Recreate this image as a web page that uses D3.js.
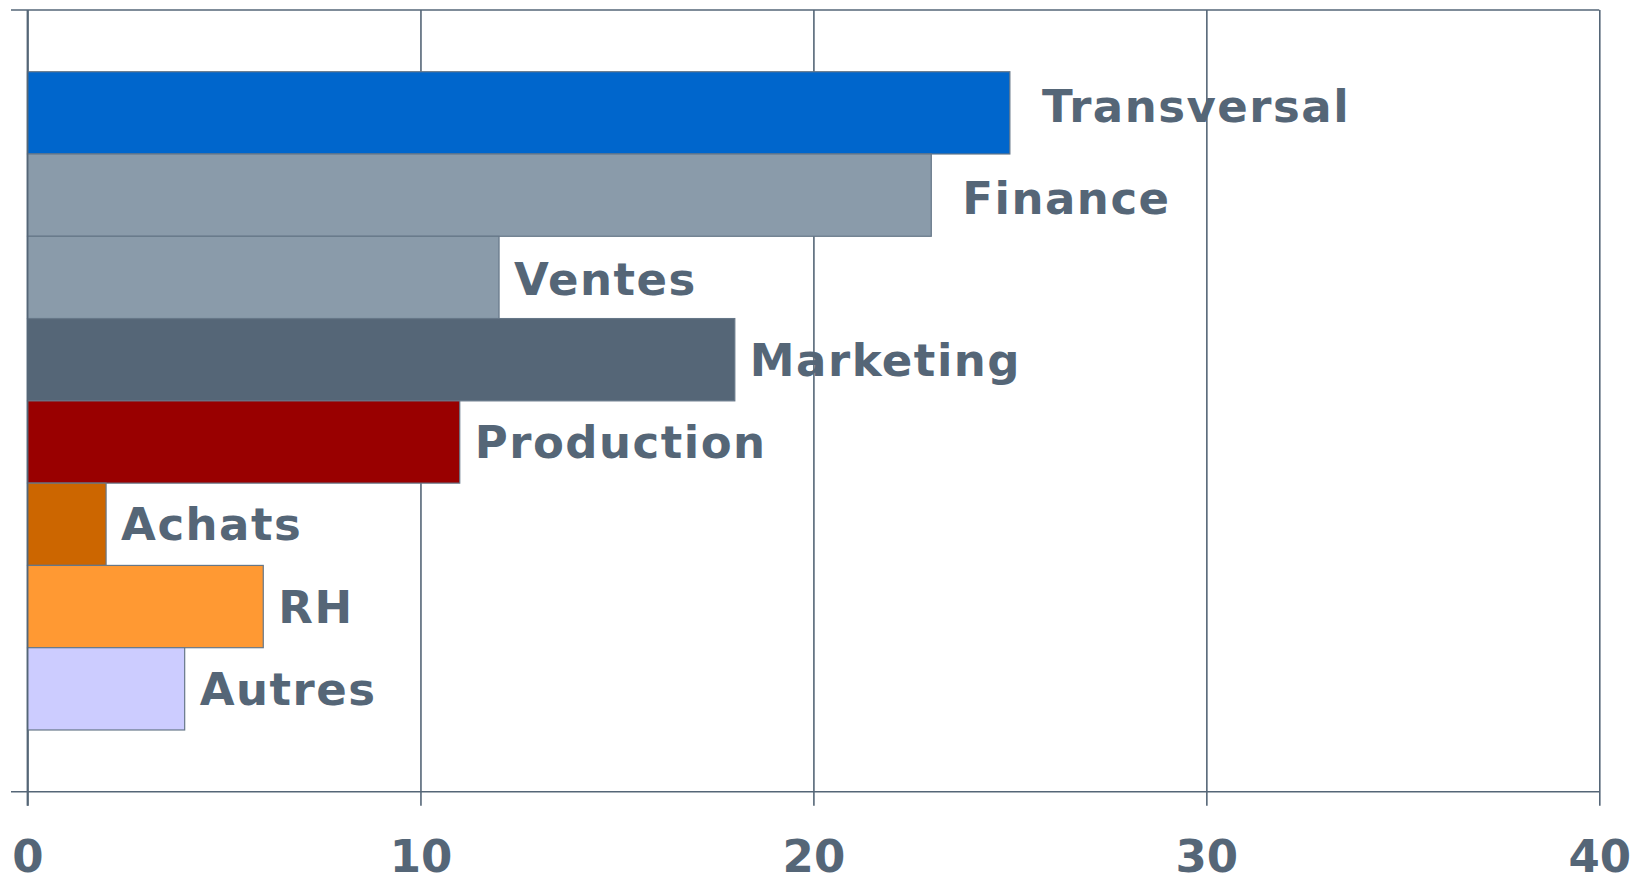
<!DOCTYPE html>
<html>
<head>
<meta charset="utf-8">
<script src="https://cdn.jsdelivr.net/npm/d3@7"></script>
<style>
  html, body { margin: 0; padding: 0; background: #ffffff; }
  svg { display: block; }
  text { font-family: "DejaVu Sans", Verdana, sans-serif; font-weight: bold; fill: #556677; }
</style>
</head>
<body>
<svg id="chart" width="1639" height="877"></svg>
<script>
// ---- data ----
const categories = ["Transversal", "Finance", "Ventes", "Marketing", "Production", "Achats", "RH", "Autres"];
const values = [25, 23, 12, 18, 11, 2, 6, 4];
const barColors = ["#0066CC", "#8A9BAA", "#8A9BAA", "#556677", "#990000", "#CC6600", "#FF9933", "#CCCCFF"];
const xTicks = [0, 10, 20, 30, 40];
// label styling offsets (px) relative to bar end / band centre
const labelDx = [32, 31, 15, 15, 15, 15, 15, 15];
const labelDy = [-7, 3, 2, 0, 0, 0, 0, 0];

// ---- layout ----
const svg = d3.select("#chart");
const mLeft = 27.5, mRight = 1599.3, mTop = 10, mBottom = 791.7;
const ink = "#556677";

const x = d3.scaleLinear().domain([0, 40]).range([mLeft, mRight]);
const y = d3.scaleBand().domain(categories).range([mTop, mBottom]).paddingInner(0).paddingOuter(0.75);

// grid / ticks via axis
const axis = d3.axisBottom(x).tickValues(xTicks).tickSize(mBottom - mTop + 14).tickFormat(d3.format("d"));
const gAxis = svg.append("g").attr("transform", `translate(0,${mTop})`).call(axis);
gAxis.select(".domain").remove();
gAxis.selectAll(".tick line").attr("stroke", ink).attr("stroke-width", 1.6);
gAxis.selectAll(".tick text")
  .attr("y", 872 - mTop).attr("dy", 0)
  .style("font-size", "45px").attr("fill", ink);

// top & bottom horizontal lines
svg.append("g").selectAll("line").data([mTop, mBottom]).join("line")
  .attr("x1", 11).attr("x2", mRight)
  .attr("y1", d => d).attr("y2", d => d)
  .attr("stroke", ink).attr("stroke-width", 1.6);

// bars
svg.append("g").selectAll("rect").data(categories).join("rect")
  .attr("x", x(0))
  .attr("y", d => y(d))
  .attr("width", (d, i) => x(values[i]) - x(0))
  .attr("height", y.bandwidth())
  .attr("fill", (d, i) => barColors[i])
  .attr("stroke", "#667788")
  .attr("stroke-width", 1.2);

// left axis line on top of bars
svg.append("line")
  .attr("x1", mLeft).attr("x2", mLeft).attr("y1", mTop).attr("y2", mBottom + 14)
  .attr("stroke", ink).attr("stroke-width", 1.8);

// labels
svg.append("g").selectAll("text").data(categories).join("text")
  .attr("x", (d, i) => x(values[i]) + labelDx[i])
  .attr("y", (d, i) => y(d) + y.bandwidth() / 2 + 16 + labelDy[i])
  .style("font-size", "45px")
  .style("letter-spacing", "1.5px")
  .text(d => d);
</script>
</body>
</html>
